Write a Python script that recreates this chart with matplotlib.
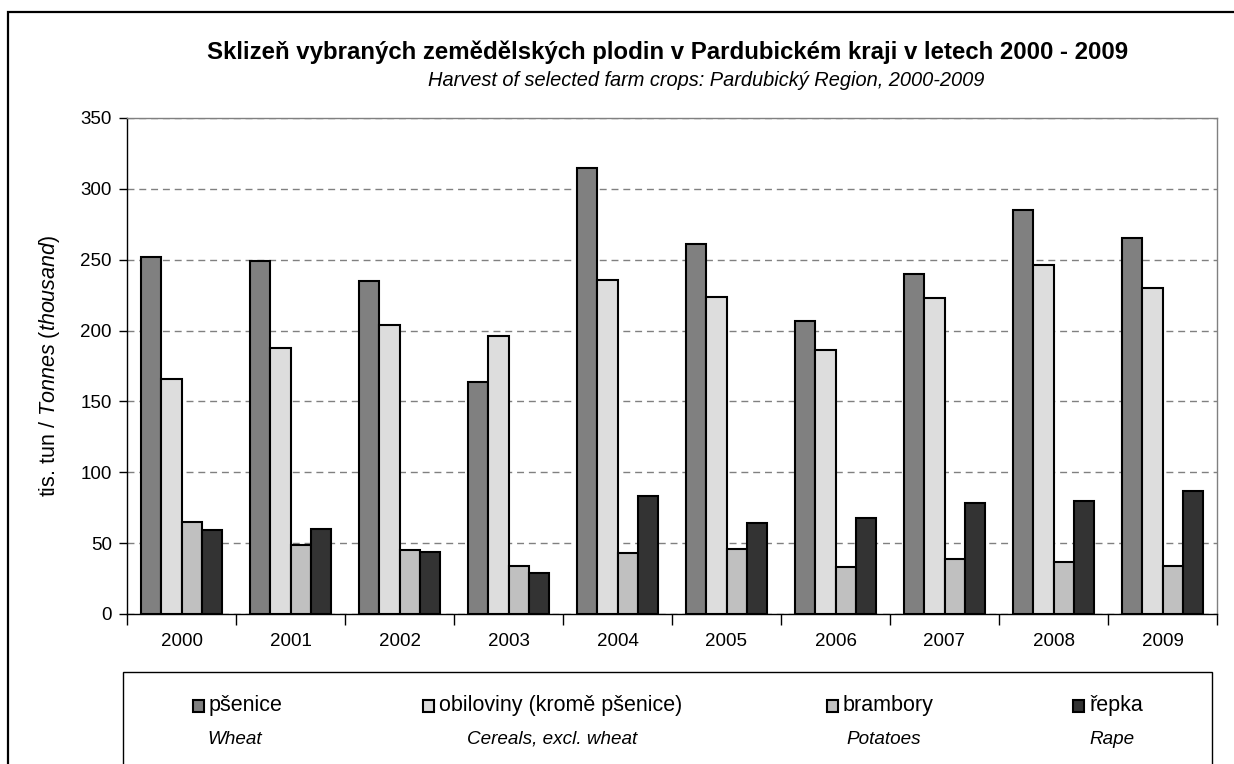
import numpy as np
import matplotlib
matplotlib.use("Agg")
import matplotlib.pyplot as plt
from matplotlib.patches import Rectangle

plt.rcParams['font.family'] = ['Liberation Sans', 'DejaVu Sans']
plt.rcParams['mathtext.fontset'] = 'custom'
plt.rcParams['mathtext.rm'] = 'Liberation Sans'
plt.rcParams['mathtext.it'] = 'Liberation Sans:italic'

# data (thousand tonnes)
years = ['2000', '2001', '2002', '2003', '2004', '2005', '2006', '2007', '2008', '2009']
wheat = [252, 249, 235, 164, 315, 261, 207, 240, 285, 265]
cereals = [166, 188, 204, 196, 236, 224, 186, 223, 246, 230]
potatoes = [65, 49, 45, 34, 43, 46, 33, 39, 37, 34]
rape = [59, 60, 44, 29, 83, 64, 68, 78, 80, 87]

names_cz = ['pšenice', 'obiloviny (kromě pšenice)', 'brambory', 'řepka']
names_en = ['Wheat', 'Cereals, excl. wheat', 'Potatoes', 'Rape']
colors = ['#808080', '#dddddd', '#c0c0c0', '#333333']

W, H = 1234, 764
fig = plt.figure(figsize=(W / 100, H / 100), dpi=100)
ax = fig.add_axes([127 / W, 1 - 614 / H, 1090 / W, 496 / H])

x = np.arange(len(years))
bw = 0.186
series = [wheat, cereals, potatoes, rape]
for i, vals in enumerate(series):
    ax.bar(x + (i - 1.5) * bw, vals, bw, color=colors[i], edgecolor='black',
           linewidth=1.5, zorder=3)

ax.set_xlim(-0.5, len(years) - 0.5)
ax.set_ylim(0, 350)
ax.set_yticks(np.arange(0, 351, 50))
ax.yaxis.grid(True, color='#808080', linestyle=(0, (5, 3.5)), linewidth=1, zorder=0)

# category boundary ticks, labels at centres
ax.set_xticks(np.arange(-0.5, len(years), 1))
ax.set_xticklabels([])
ax.set_xticks(x, minor=True)
ax.set_xticklabels(years, minor=True)
ax.tick_params(axis='x', which='major', length=8, width=1, direction='out')
ax.tick_params(axis='x', which='minor', length=0, pad=14, labelsize=13.5)
ax.tick_params(axis='y', length=6, width=1, direction='out', labelsize=13.5, pad=5)

for s in ['top', 'right']:
    ax.spines[s].set_color('#808080')
    ax.spines[s].set_linewidth(1)
for s in ['left', 'bottom']:
    ax.spines[s].set_color('black')
    ax.spines[s].set_linewidth(1)

fig.text(50 / W, 1 - 366 / H, r'tis. tun / $\it{Tonnes\ (thousand)}$', rotation=90,
         ha='center', va='center', fontsize=15.5)

# titles
fig.text(668 / W, 1 - 52 / H, 'Sklizeň vybraných zemědělských plodin v Pardubickém kraji v letech 2000 - 2009',
         ha='center', va='center', fontsize=17.3, fontweight='bold')
fig.text(706 / W, 1 - 80 / H, 'Harvest of selected farm crops: Pardubický Region, 2000-2009',
         ha='center', va='center', fontsize=14.4, style='italic')

# outer frame
fig.patches.append(Rectangle((8 / W, -0.1), 1.2, 1 - 12.5 / H + 0.1, transform=fig.transFigure,
                             fill=False, edgecolor='black', linewidth=1.6))

# legend box
fig.patches.append(Rectangle((123 / W, -0.1), (1212 - 123) / W, 1 - 672 / H + 0.1,
                             transform=fig.transFigure, fill=False, edgecolor='black', linewidth=1))
marker_x = [193, 423, 827, 1073]
en_x = [235, 552, 884, 1112]
for i in range(4):
    fig.patches.append(Rectangle((marker_x[i] / W, 1 - 712 / H), 11 / W, 12 / H,
                                 transform=fig.transFigure, facecolor=colors[i],
                                 edgecolor='black', linewidth=1.5))
    fig.text((marker_x[i] + 16) / W, 1 - 706 / H, names_cz[i], ha='left', va='center', fontsize=15.5)
    fig.text(en_x[i] / W, 1 - 739 / H, names_en[i], ha='center', va='center', fontsize=13.6,
             style='italic')

fig.savefig('out.png', dpi=100)
